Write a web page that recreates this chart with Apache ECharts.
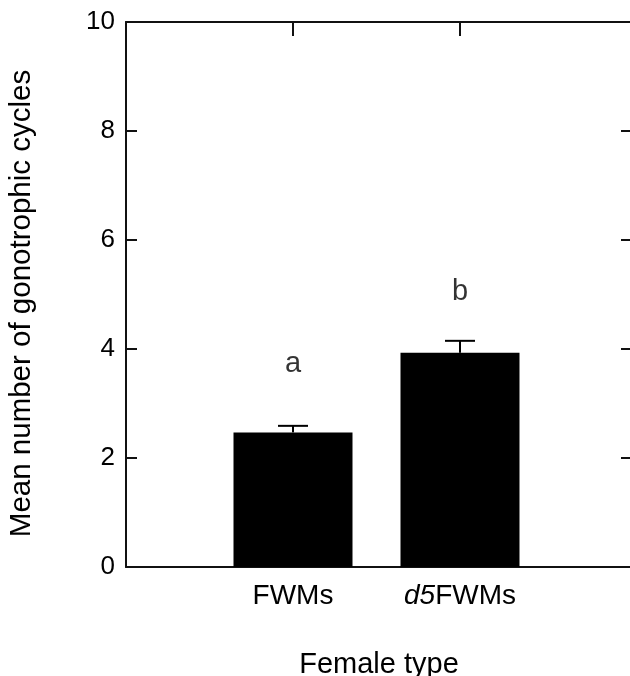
<!DOCTYPE html>
<html>
<head>
<meta charset="utf-8">
<script src="https://cdn.jsdelivr.net/npm/echarts@6/dist/echarts.min.js"></script>
<style>
html,body{margin:0;padding:0;background:#fff;}
#c{width:630px;height:676px;}
</style>
</head>
<body>
<div id="c"></div>
<script>
// ---- data ----
const categories = ['FWMs', 'd5FWMs'];
const means = [2.47, 3.93];
const errorTops = [2.59, 4.15];
const sigLetters = ['a', 'b'];
const letterValues = [3.72, 5.05];
const yTicks = [0, 2, 4, 6, 8, 10];

const FONT = '"Liberation Sans", Arial, Helvetica, sans-serif';
const INK = '#000';

const positions = categories.map((c, i) => i + 1);
const barData = positions.map((p, i) => [p, means[i]]);
const errData = positions.map((p, i) => [p, means[i], errorTops[i]]);
const letterData = positions.map((p, i) => ({ value: [p, letterValues[i]], name: sigLetters[i] }));

const chart = echarts.init(document.getElementById('c'), null, { renderer: 'canvas' });

const axisLineStyle = { color: '#111', width: 2 };

chart.setOption({
  animation: false,
  backgroundColor: '#fff',
  grid: { left: 126, right: -2, top: 22, bottom: 109, containLabel: false, outerBoundsMode: 'none' },
  xAxis: [
    {
      type: 'value',
      position: 'bottom',
      min: 0, max: 3.03, interval: 1,
      name: 'Female type',
      nameLocation: 'middle',
      nameGap: 83,
      nameTextStyle: { fontFamily: FONT, fontSize: 29, color: INK },
      axisLine: { show: true, onZero: false, lineStyle: axisLineStyle },
      axisTick: { show: false },
      splitLine: { show: false },
      axisLabel: {
        show: true,
        customValues: positions,
        margin: 15,
        fontFamily: FONT, fontSize: 28, color: INK,
        formatter: function (v) {
          const name = categories[Math.round(v) - 1] || '';
          if (name.startsWith('d5')) return '{i|d5}{n|' + name.slice(2) + '}';
          return '{n|' + name + '}';
        },
        rich: {
          i: { fontFamily: FONT, fontSize: 28, fontStyle: 'italic', color: INK },
          n: { fontFamily: FONT, fontSize: 28, color: INK }
        }
      }
    },
    {
      type: 'value',
      position: 'top',
      min: 0, max: 3.03, interval: 1,
      axisLine: { show: true, onZero: false, lineStyle: axisLineStyle },
      axisTick: { show: true, inside: true, length: 14, customValues: positions, lineStyle: axisLineStyle },
      axisLabel: { show: false },
      splitLine: { show: false }
    }
  ],
  yAxis: [
    {
      type: 'value',
      position: 'left',
      min: 0, max: 10, interval: 2,
      name: 'Mean number of gonotrophic cycles',
      nameLocation: 'middle',
      nameGap: 89,
      nameTextStyle: { fontFamily: FONT, fontSize: 29.5, color: INK, padding: [0, 18, 0, 0] },
      axisLine: { show: true, onZero: false, lineStyle: axisLineStyle },
      axisTick: { show: true, inside: true, length: 11, lineStyle: axisLineStyle },
      axisLabel: {
        margin: 11, fontFamily: FONT, fontSize: 26, color: INK,
        customValues: yTicks
      },
      splitLine: { show: false }
    },
    {
      type: 'value',
      position: 'right',
      min: 0, max: 10, interval: 2,
      axisLine: { show: true, onZero: false, lineStyle: axisLineStyle },
      axisTick: { show: true, inside: true, length: 11, lineStyle: axisLineStyle },
      axisLabel: { show: false },
      splitLine: { show: false }
    }
  ],
  series: [
    {
      type: 'bar',
      xAxisIndex: 0, yAxisIndex: 0,
      data: barData,
      barWidth: 119,
      itemStyle: { color: '#000' },
      z: 3
    },
    {
      type: 'custom',
      xAxisIndex: 0, yAxisIndex: 0,
      data: errData,
      z: 4,
      renderItem: function (params, api) {
        const x = api.value(0);
        const top = api.coord([x, api.value(2)]);
        const base = api.coord([x, api.value(1)]);
        const half = 15;
        const style = { stroke: '#000', lineWidth: 2 };
        return {
          type: 'group',
          children: [
            { type: 'line', shape: { x1: top[0], y1: top[1], x2: base[0], y2: base[1] }, style: style },
            { type: 'line', shape: { x1: top[0] - half, y1: top[1], x2: top[0] + half, y2: top[1] }, style: style }
          ]
        };
      }
    },
    {
      type: 'scatter',
      xAxisIndex: 0, yAxisIndex: 0,
      data: letterData,
      symbolSize: 0,
      label: {
        show: true,
        position: 'inside',
        formatter: function (p) { return p.name; },
        fontFamily: FONT, fontSize: 29, color: INK
      },
      z: 5
    }
  ]
});
</script>
</body>
</html>
